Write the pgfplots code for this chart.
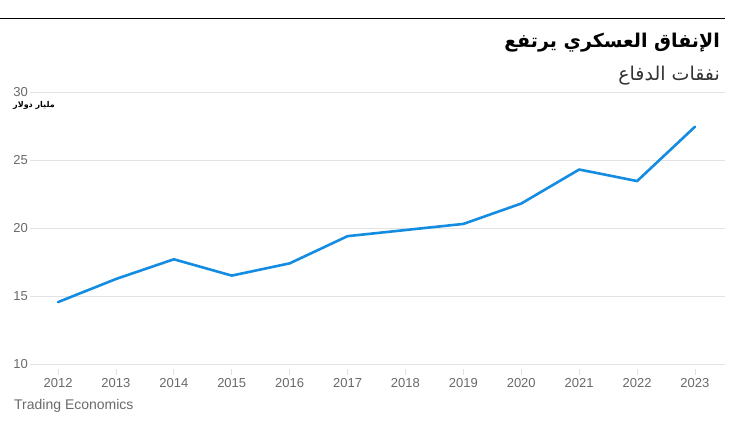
\documentclass[border=0pt]{standalone}
\usepackage{fontspec}
\setmainfont{Liberation Sans}
\newfontfamily\arabicfont[Script=Arabic]{DejaVu Sans}
\TeXXeTstate=1
\usepackage{pgfplots}
\pgfplotsset{compat=1.18}
\definecolor{lineblue}{RGB}{20,140,225}
\definecolor{gridgray}{RGB}{226,226,226}
\definecolor{labgray}{RGB}{105,105,105}

\begin{document}
\begin{tikzpicture}
\path[use as bounding box] (0pt,0pt) rectangle (741pt,428pt);
\draw[black, line width=1pt] (0pt,409pt) -- (725pt,409pt);
\node[anchor=east, inner sep=0pt, font=\arabicfont\bfseries\fontsize{19}{22}\selectfont] at (720pt,385pt) {\beginR الإنفاق العسكري يرتفع\endR};
\node[anchor=east, inner sep=0pt, text=black!80, font=\arabicfont\fontsize{19}{22}\selectfont] at (720pt,352pt) {\beginR نفقات الدفاع\endR};
\node[anchor=west, inner sep=0pt, font=\arabicfont\bfseries\fontsize{8}{10}\selectfont] at (13pt,323pt) {\beginR مليار دولار\endR};
\node[anchor=west, inner sep=0pt, text=labgray, font=\fontsize{14}{16}\selectfont] at (14pt,22pt) {Trading Economics};
\begin{axis}[
    at={(30pt,64pt)}, anchor=south west,
    scale only axis,
    width=695pt, height=272pt,
    xmin=2011.516, xmax=2023.518,
    ymin=10, ymax=30,
    axis line style={draw=none},
    xtick={2012,...,2023},
    ytick={10,15,20,25,30},
    ymajorgrids, grid style={gridgray, line width=0.8pt},
    xtick pos=bottom, ytick style={draw=none},
    tick align=outside, major tick length=6pt,
    xtick style={gridgray, line width=0.8pt, yshift=-5pt},
    /pgf/number format/1000 sep={},
    /pgf/number format/assume math mode=true,
    tick label style={text=labgray, font=\fontsize{13}{15}\selectfont},
    xticklabel style={yshift=-5pt},
    yticklabel style={inner sep=1pt, xshift=5pt},
    clip=false,
]
\addplot[lineblue, line width=2.6pt, line join=round, line cap=round] coordinates {
(2012,14.55) (2013,16.25) (2014,17.7) (2015,16.5) (2016,17.4) (2017,19.4)
(2018,19.85) (2019,20.3) (2020,21.8) (2021,24.3) (2022,23.45) (2023,27.45)
};
\end{axis}
\end{tikzpicture}
\end{document}
